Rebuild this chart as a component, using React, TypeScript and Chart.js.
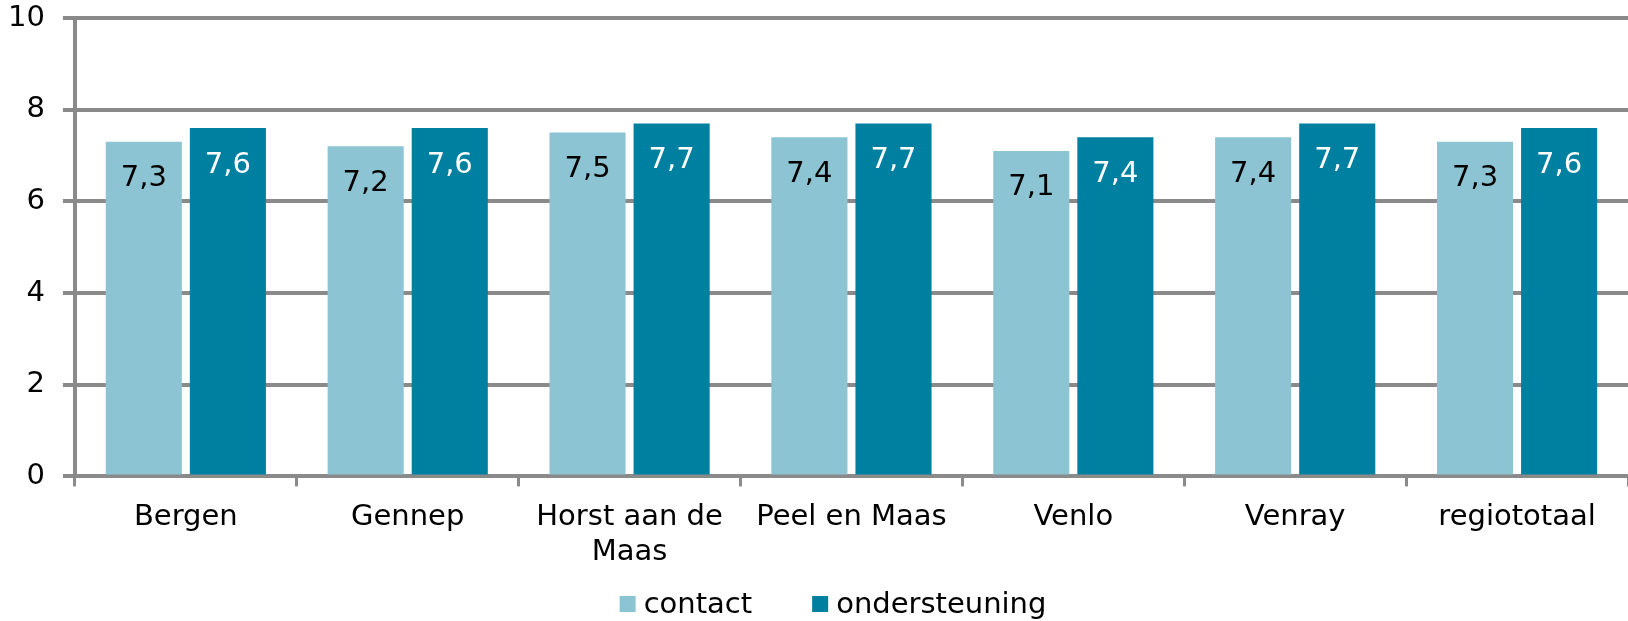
import React, { useEffect, useRef } from "react";
import { Chart, registerables } from "chart.js";

Chart.register(...registerables);

const categories: (string | string[])[] = [
  "Bergen",
  "Gennep",
  ["Horst aan de", "Maas"],
  "Peel en Maas",
  "Venlo",
  "Venray",
  "regiototaal",
];
const contactValues = [7.3, 7.2, 7.5, 7.4, 7.1, 7.4, 7.3];
const ondersteuningValues = [7.6, 7.6, 7.7, 7.7, 7.4, 7.7, 7.6];
const seriesNames = ["contact", "ondersteuning"];
const yTicks = [0, 2, 4, 6, 8, 10];

const LIGHT = "#8cc4d3";
const DARK = "#0080a0";
const GRID = "#8a8a8a";
const FONT = "'DejaVu Sans', Verdana, sans-serif";
const FS = 29;

const valueLabelPlugin = {
  id: "valueLabels",
  afterDatasetsDraw(chart: any) {
    const ctx = chart.ctx;
    ctx.save();
    ctx.font = `${FS}px ${FONT}`;
    ctx.textAlign = "center";
    ctx.textBaseline = "middle";
    chart.data.datasets.forEach((ds: any, di: number) => {
      const meta = chart.getDatasetMeta(di);
      meta.data.forEach((el: any, i: number) => {
        const v = ds.data[i] as number;
        ctx.fillStyle = di === 0 ? "#000000" : "#ffffff";
        ctx.fillText(v.toFixed(1).replace(".", ","), el.x, el.y + 37);
      });
    });
    ctx.restore();
  },
};

const customLegendPlugin = {
  id: "customLegend",
  afterDraw(chart: any) {
    const ctx = chart.ctx;
    ctx.save();
    ctx.font = `${FS}px ${FONT}`;
    ctx.textBaseline = "middle";
    ctx.textAlign = "left";
    const box = 16;
    const gap = 8;
    const itemGap = 60;
    const ds = chart.data.datasets;
    const widths = ds.map((d: any) => box + gap + ctx.measureText(d.label).width);
    const total = widths.reduce((a: number, b: number) => a + b, 0) + itemGap * (ds.length - 1);
    let x = chart.width / 2 - total / 2 + 19;
    const y = 604;
    ds.forEach((d: any, i: number) => {
      ctx.fillStyle = d.backgroundColor;
      ctx.fillRect(x, y - box / 2, box, box);
      ctx.fillStyle = "#000000";
      ctx.fillText(d.label, x + box + gap, y + 1);
      x += widths[i] + itemGap;
    });
    ctx.restore();
  },
};

export default function App() {
  const ref = useRef<HTMLCanvasElement | null>(null);

  useEffect(() => {
    if (!ref.current) return;
    const chart = new Chart(ref.current, {
      type: "bar",
      data: {
        labels: categories,
        datasets: [
          {
            label: seriesNames[0],
            data: contactValues,
            backgroundColor: LIGHT,
            categoryPercentage: 0.758,
            barPercentage: 0.905,
          },
          {
            label: seriesNames[1],
            data: ondersteuningValues,
            backgroundColor: DARK,
            categoryPercentage: 0.758,
            barPercentage: 0.905,
          },
        ],
      },
      options: {
        animation: false,
        responsive: false,
        maintainAspectRatio: false,
        layout: { padding: { top: 18, left: -10, right: 0, bottom: 37 } },
        plugins: {
          legend: { display: false },
          tooltip: { enabled: false },
        },
        scales: {
          x: {
            grid: {
              display: true,
              drawOnChartArea: false,
              drawTicks: true,
              tickLength: 10,
              color: GRID,
              lineWidth: 3,
              offset: true,
            },
            border: { display: true, color: GRID, width: 4 },
            ticks: {
              color: "#000000",
              font: { family: FONT, size: FS },
              padding: 14,
              maxRotation: 0,
              autoSkip: false,
            },
          },
          y: {
            min: 0,
            max: 10,
            afterBuildTicks: (axis: any) => {
              axis.ticks = yTicks.map((v) => ({ value: v }));
            },
            afterFit: (axis: any) => {
              axis.paddingTop = 0;
              axis.paddingBottom = 0;
            },
            grid: {
              color: GRID,
              lineWidth: 4,
              tickLength: 12,
              drawTicks: true,
            },
            border: { display: true, color: GRID, width: 4 },
            ticks: {
              color: "#000000",
              font: { family: FONT, size: FS },
              padding: 18,
            },
          },
        },
      },
      plugins: [valueLabelPlugin, customLegendPlugin],
    });
    return () => chart.destroy();
  }, []);

  return (
    <div style={{ position: "fixed", left: 0, top: 0, width: 1628, height: 621, background: "#fff" }}>
      <canvas ref={ref} width={1628} height={621} style={{ display: "block", width: 1628, height: 621 }} />
    </div>
  );
}
